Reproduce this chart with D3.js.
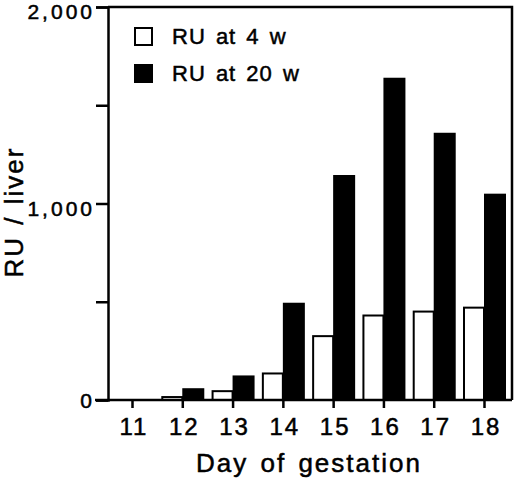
<!DOCTYPE html>
<html>
<head>
<meta charset="utf-8">
<script src="https://cdn.jsdelivr.net/npm/d3@7"></script>
<style>
    body { margin: 0; background: #fff; }
    text { font-family: "Liberation Sans", Arial, sans-serif; fill: #000; stroke: #000; stroke-width: 0.5px; }
</style>
</head>
<body>
<div id="viz"></div>
<script>

let days = [11, 12, 13, 14, 15, 16, 17, 18];
let ru4w = [0, 15, 45, 135, 325, 430, 450, 470];
let ru20w = [0, 60, 125, 495, 1145, 1640, 1360, 1050];
let yTicks = [0, 500, 1000, 1500, 2000];
let yLabels = [0, 1000, 2000];
let legendNames = ['RU at 4 w', 'RU at 20 w'];

const wd = 520, ht = 480;
const frame = {left: 108, right: 512, top: 7, bottom: 400};

const svg = d3.select('#viz').append('svg')
    .attr('width', wd)
    .attr('height', ht);

const x = d3.scalePoint()
    .domain(days)
    .range([132, 484]);

const y = d3.scaleLinear()
    .domain([0, 2000])
    .range([frame.bottom, frame.top]);

let barData = days.map((d, i) => ({day: d, w4: ru4w[i], w20: ru20w[i]}));

// white bars (4 w), left of the tick
svg.selectAll('.bar4')
    .data(barData)
    .enter().append('rect')
    .attr('class', 'bar4')
    .attr('x', d => x(d.day) - 20)
    .attr('y', d => y(d.w4))
    .attr('width', 20)
    .attr('height', d => y(0) - y(d.w4))
    .attr('fill', '#fff')
    .attr('stroke', '#000')
    .attr('stroke-width', 2);

// black bars (20 w), right of the tick
svg.selectAll('.bar20')
    .data(barData)
    .enter().append('rect')
    .attr('class', 'bar20')
    .attr('x', d => x(d.day))
    .attr('y', d => y(d.w20))
    .attr('width', 22)
    .attr('height', d => y(0) - y(d.w20))
    .attr('fill', '#000');

// frame top + right
svg.append('path')
    .attr('d', 'M' + frame.left + ',' + frame.top + 'H' + frame.right + 'V' + frame.bottom)
    .attr('fill', 'none')
    .attr('stroke', '#000')
    .attr('stroke-width', 2.5);

// y axis
const yAxis = svg.append('g')
    .attr('transform', 'translate(' + frame.left + ',0)')
    .call(d3.axisLeft(y).tickValues(yTicks).tickSize(12).tickFormat(''));
yAxis.select('.domain').attr('stroke-width', 2.5);
yAxis.selectAll('.tick line').attr('stroke-width', 2.5);

svg.selectAll('.ylab')
    .data(yLabels)
    .enter().append('text')
    .attr('class', 'ylab')
    .attr('x', 95)
    .attr('y', d => y(d) + (d === 0 ? 8 : 12))
    .attr('text-anchor', 'end')
    .attr('font-size', 21)
    .attr('letter-spacing', '3px')
    .text(d => d3.format(',')(d));

// x axis
const xAxis = svg.append('g')
    .attr('transform', 'translate(0,' + frame.bottom + ')')
    .call(d3.axisBottom(x).tickSize(8).tickFormat(''));
xAxis.select('.domain').attr('d', 'M95,0H' + frame.right).attr('stroke-width', 2.5);
xAxis.selectAll('.tick line').attr('stroke-width', 2.5);

svg.selectAll('.xlab')
    .data(days)
    .enter().append('text')
    .attr('class', 'xlab')
    .attr('x', d => x(d) + 2)
    .attr('y', 435)
    .attr('text-anchor', 'middle')
    .attr('font-size', 24)
    .attr('letter-spacing', '2px')
    .text(d => d);

svg.append('text')
    .attr('x', 309)
    .attr('y', 472)
    .attr('text-anchor', 'middle')
    .attr('font-size', 26)
    .attr('letter-spacing', '2px')
    .attr('word-spacing', '3px')
    .text('Day of gestation');

svg.append('text')
    .attr('transform', 'translate(23,212) rotate(-90)')
    .attr('text-anchor', 'middle')
    .attr('font-size', 26)
    .attr('letter-spacing', '2px')
    .attr('word-spacing', '2px')
    .text('RU / liver');

// legend
let legend = svg.selectAll('.legend')
    .data(legendNames)
    .enter().append('g')
    .attr('class', 'legend')
    .attr('transform', (d, i) => 'translate(134,' + (27 + i * 37) + ')');

legend.append('rect')
    .attr('x', 1)
    .attr('y', 1)
    .attr('width', 17)
    .attr('height', 17)
    .attr('fill', (d, i) => i === 0 ? '#fff' : '#000')
    .attr('stroke', '#000')
    .attr('stroke-width', 2);

legend.append('text')
    .attr('x', 38)
    .attr('y', 17)
    .attr('font-size', 22)
    .attr('letter-spacing', '1px')
    .attr('word-spacing', '3px')
    .text(d => d);

</script>
</body>
</html>
